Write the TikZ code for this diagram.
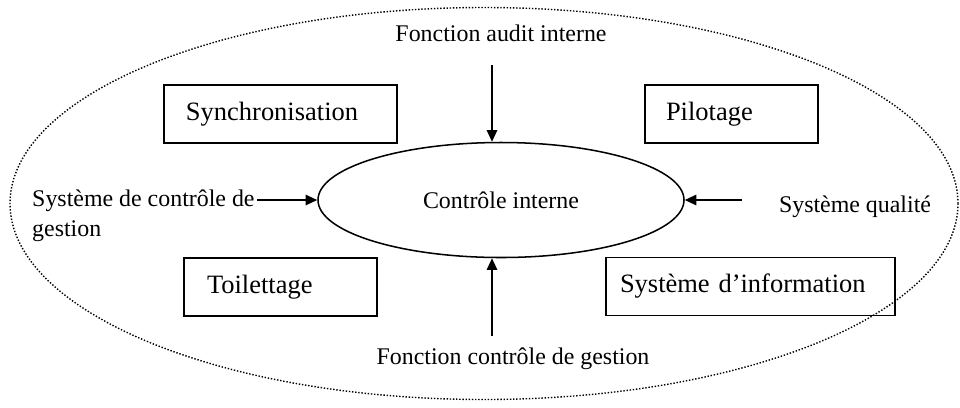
\documentclass[tikz,border=0pt]{standalone}
\usepackage{fontspec}
\setmainfont{Liberation Serif}
\usetikzlibrary{shapes.geometric, arrows.meta, positioning}
\tikzset{
  cadre/.style={draw, rectangle, line width=1.3pt, align=left, minimum height=1.74cm,
    inner ysep=0pt, font=\fontsize{22.6}{26}\selectfont},
  lbl/.style={inner sep=0pt, font=\fontsize{20.4}{25.6}\selectfont},
  fleche/.style={-{Triangle[length=10pt,width=9pt]}, line width=1.3pt},
}

\begin{document}
\begin{tikzpicture}[x=0.03cm, y=-0.03cm]
  \useasboundingbox (0,0) rectangle (960,407);
  % enveloppe en pointille
  \draw [line width=1.2pt, dash pattern=on 1.2pt off 1.5pt] (484,203.5) ellipse [x radius=474, y radius=196];
  \node [draw, ellipse, line width=1.3pt, minimum width=10.98cm, minimum height=3.45cm, inner sep=0pt,
    font=\fontsize{20.4}{25.6}\selectfont] (ci) at (501,200) {Contrôle interne};
  % les quatre cadres
  \node [cadre, text width=5.67cm, inner xsep=0.66cm] (sync) at (280.5,114) {Synchronisation};
  \node [cadre, text width=3.93cm, inner xsep=0.63cm] (pilot) at (731.5,114) {Pilotage};
  \node [cadre, text width=4.41cm, inner xsep=0.69cm] (toil) at (280.5,287) {Toilettage};
  \node [cadre, text width=7.83cm, inner xsep=0.42cm] (si) at (750.5,286.5) {Système d’information};
  % les entrees
  \node [lbl] (audit) at (501,33) {Fonction audit interne};
  \node [lbl] (fcg) at (513,359) {Fonction contrôle de gestion};
  \node [lbl, anchor=west, align=left] (scg) at (32,216) {Système de contrôle de\\gestion};
  \node [lbl] (qual) at (855,207) {Système qualité};
  \coordinate (haut) at (492,65);
  \coordinate (bas) at (492,336);
  \coordinate (gauche) at (257,200);
  \coordinate (droite) at (742,200);
  \draw [fleche] (haut) -- (haut |- ci.north);
  \draw [fleche] (bas) -- (bas |- ci.south);
  \draw [fleche] (gauche) -- (ci.west);
  \draw [fleche] (droite) -- (ci.east);
\end{tikzpicture}
\end{document}
